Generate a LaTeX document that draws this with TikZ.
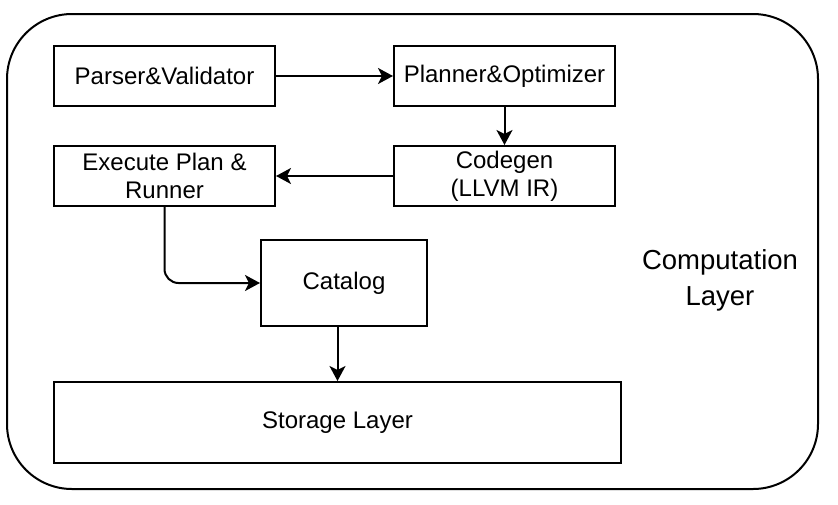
\documentclass[tikz,border=0pt]{standalone}
\usepackage{fontspec}
\setmainfont{Liberation Sans}
\usetikzlibrary{arrows.meta}
\tikzset{blk/.style={draw,line width=2pt,minimum width=221pt,minimum height=60pt,inner sep=0pt,align=center,font=\fontsize{24}{28}\selectfont}}
\begin{document}
\begin{tikzpicture}[x=1pt,y=-1pt,>={Stealth[length=15pt,width=16pt,inset=4pt]},line width=2pt];
		\useasboundingbox (0,0) rectangle (838,504);
		\draw [rounded corners=65pt] (7,14) rectangle (818,489);
		\node (label) at (720,280) [align=center,font=\fontsize{27.5}{36}\selectfont] {Computation\\Layer};
		\node [blk] (parser) at (164.5,76) {Parser\&Validator};
		\node [blk] (planner) at (504.5,76) {Planner\&Optimizer};
		\node [blk] (codegen) at (504.5,176) {Codegen\\(LLVM IR)};
		\node [blk] (execute) at (164.5,176) {Execute Plan \&\\Runner};
		\node [blk,minimum width=166pt,minimum height=86pt] (catalog) at (344,283) {Catalog};
		\node [blk,minimum width=567pt,minimum height=81pt] (storage) at (337.5,422.5) {Storage Layer};
		\draw [->] (parser) -- (planner);
		\draw [->] (planner) -- (codegen);
		\draw [->] (codegen) -- (execute);
		\draw [->,rounded corners=14pt] (execute.south) |- (catalog.west);
		\draw [->] (storage.north |- catalog.south) -- (storage.north);
		\end{tikzpicture}
\end{document}
